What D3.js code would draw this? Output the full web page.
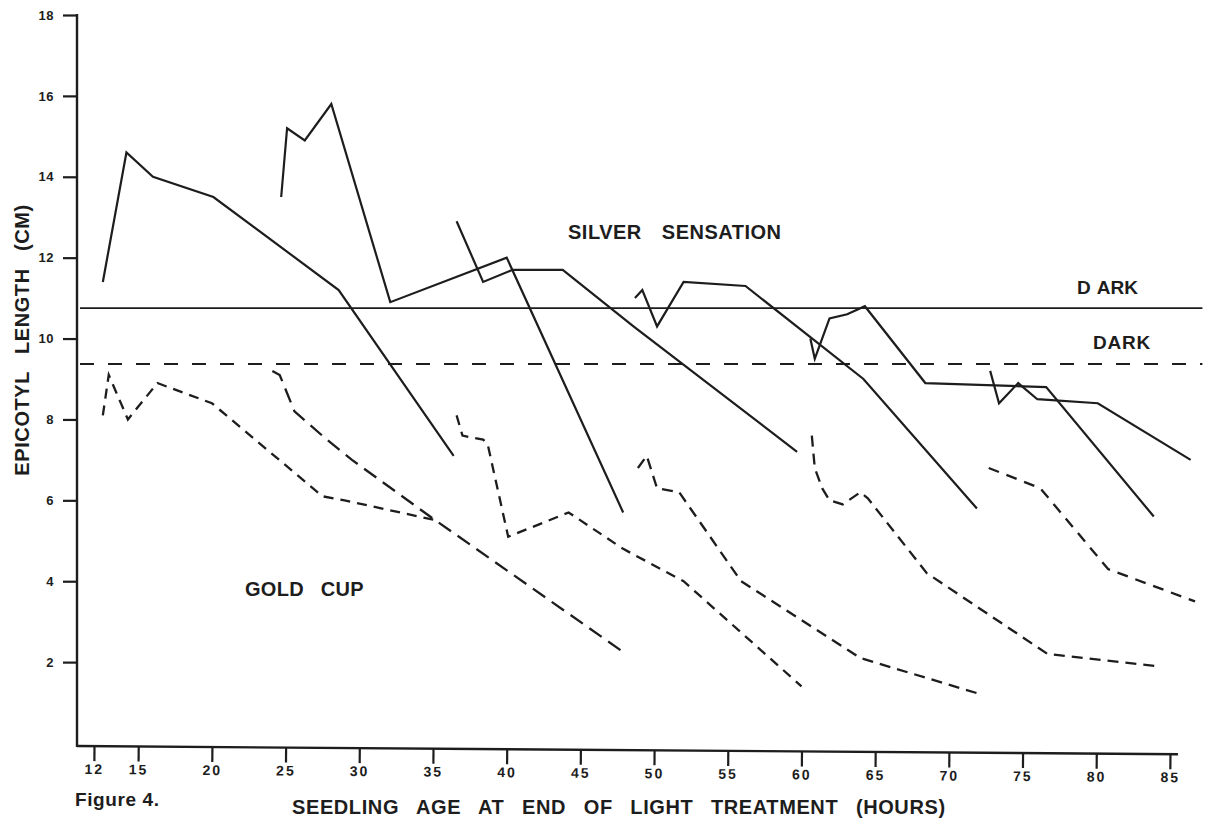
<!DOCTYPE html>
<html>
<head>
<meta charset="utf-8">
<script src="https://cdn.jsdelivr.net/npm/d3@7"></script>
<style>
  html, body { margin: 0; padding: 0; background: #ffffff; }
  svg { display: block; font-family: "Liberation Sans", Arial, Helvetica, sans-serif; }
</style>
</head>
<body>
<svg id="chart" width="1219" height="821"></svg>
<script>
// Axis ticks
const xTicks = [12, 15, 20, 25, 30, 35, 40, 45, 50, 55, 60, 65, 70, 75, 80, 85];
const yTicks = [2, 4, 6, 8, 10, 12, 14, 16, 18];

// Dark-grown controls (cm), drawn across the whole time span (hours)
const darkSpan = [11.05, 87.2];
const darkSilver = 10.75;
const darkGold = 9.37;

// Silver Sensation: seedling age (hours) and epicotyl length (cm), one run per start age
const silverHours = [
  [12.6, 14.2, 16.0, 20.1, 28.6, 36.4],
  [24.7, 25.1, 26.3, 28.1, 32.1, 40.0, 47.9],
  [36.6, 38.4, 40.4, 43.8, 48.6, 59.7],
  [48.7, 49.2, 50.2, 52.0, 56.2, 64.2, 71.9],
  [60.6, 60.9, 61.9, 63.1, 64.3, 68.4, 76.6, 83.9],
  [72.8, 73.4, 74.7, 76.0, 80.1, 86.4]
];
const silverLength = [
  [11.4, 14.6, 14.0, 13.5, 11.2, 7.1],
  [13.5, 15.2, 14.9, 15.8, 10.9, 12.0, 5.7],
  [12.9, 11.4, 11.7, 11.7, 10.3, 7.2],
  [11.0, 11.2, 10.3, 11.4, 11.3, 9.0, 5.8],
  [10.0, 9.5, 10.5, 10.6, 10.8, 8.9, 8.8, 5.6],
  [9.2, 8.4, 8.9, 8.5, 8.4, 7.0]
];

// Gold Cup: seedling age (hours) and epicotyl length (cm)
const goldHours = [
  [12.6, 13.0, 14.3, 16.3, 20.0, 27.5, 29.0, 35.3],
  [24.1, 24.6, 25.6, 27.8, 29.5, 34.8, 48.1],
  [36.6, 37.0, 38.4, 38.7, 40.1, 44.2, 47.9, 52.0, 60.0],
  [48.9, 49.5, 50.2, 51.7, 55.9, 64.0, 72.2],
  [60.7, 60.9, 61.4, 61.9, 62.8, 64.0, 64.5, 68.5, 76.7, 84.1],
  [72.7, 76.2, 80.8, 86.7]
];
const goldLength = [
  [8.1, 9.1, 8.0, 8.9, 8.4, 6.1, 6.0, 5.5],
  [9.2, 9.1, 8.2, 7.5, 7.0, 5.6, 2.2],
  [8.1, 7.6, 7.5, 7.4, 5.1, 5.7, 4.8, 4.0, 1.4],
  [6.8, 7.1, 6.3, 6.2, 4.0, 2.1, 1.2],
  [7.6, 6.8, 6.3, 6.0, 5.9, 6.2, 6.05, 4.2, 2.2, 1.9],
  [6.8, 6.3, 4.3, 3.5]
];

// Dash pattern for each Gold Cup run
const goldDash = ["10,7", "15,8", "10,7", "11,7", "11,7", "11,8"];

const ink = "#1d1d1d";
const svg = d3.select("#chart");

const x = d3.scaleLinear().domain([12, 85]).range([94, 1170]);
const y = d3.scaleLinear().domain([0, 18]).range([743, 15]);

const line = d3.line()
  .x(d => x(d[0]))
  .y(d => y(d[1]));

const zip = (hs, vs) => hs.map((h, i) => [h, vs[i]]);

// ---- Y axis ----
const yAxis = svg.append("g")
  .attr("transform", "translate(77,0)")
  .call(d3.axisLeft(y).tickValues(yTicks).tickSize(14).tickPadding(9).tickFormat(d3.format("d")));
yAxis.select(".domain").remove();
yAxis.append("line")
  .attr("x1", 0).attr("x2", 0)
  .attr("y1", 747).attr("y2", y(18) - 1)
  .attr("stroke", ink).attr("stroke-width", 2.4);
yAxis.selectAll(".tick line").attr("stroke", ink).attr("stroke-width", 2.2);
yAxis.selectAll(".tick text")
  .attr("fill", ink)
  .style("font-size", "13px")
  .style("font-weight", "bold")
  .style("letter-spacing", "0.5px")
  .style("font-family", "'Liberation Sans', Arial, sans-serif");

// ---- X axis (drawn slightly skewed, as on the sheet) ----
const xAxis = svg.append("g")
  .attr("transform", "translate(0,746) rotate(0.43,77,0)")
  .call(d3.axisBottom(x).tickValues(xTicks).tickSize(15).tickPadding(3).tickFormat(d3.format("d")));
xAxis.select(".domain").remove();
xAxis.append("line")
  .attr("x1", 77).attr("x2", 1178)
  .attr("y1", 0).attr("y2", 0)
  .attr("stroke", ink).attr("stroke-width", 2.4);
xAxis.selectAll(".tick line").attr("stroke", ink).attr("stroke-width", 2.2);
xAxis.selectAll(".tick text")
  .attr("fill", ink)
  .style("font-size", "14px")
  .style("font-weight", "bold")
  .style("letter-spacing", "2px")
  .style("font-family", "'Liberation Sans', Arial, sans-serif");

// ---- Dark controls ----
svg.append("path")
  .attr("d", line(darkSpan.map(h => [h, darkSilver])))
  .attr("fill", "none").attr("stroke", ink).attr("stroke-width", 1.7);
svg.append("path")
  .attr("d", line(darkSpan.map(h => [h, darkGold])))
  .attr("fill", "none").attr("stroke", ink).attr("stroke-width", 2)
  .attr("stroke-dasharray", "14,14");

// ---- Silver Sensation runs (solid) ----
svg.append("g").selectAll("path")
  .data(silverHours.map((hs, i) => zip(hs, silverLength[i])))
  .join("path")
  .attr("d", line)
  .attr("fill", "none")
  .attr("stroke", ink)
  .attr("stroke-width", 2.2)
  .attr("stroke-linejoin", "miter");

// ---- Gold Cup runs (dashed) ----
svg.append("g").selectAll("path")
  .data(goldHours.map((hs, i) => zip(hs, goldLength[i])))
  .join("path")
  .attr("d", line)
  .attr("fill", "none")
  .attr("stroke", ink)
  .attr("stroke-width", 2.3)
  .attr("stroke-dasharray", (d, i) => goldDash[i]);

// ---- Labels ----
const label = (tx, ty, str, size, ls, ws) => svg.append("text")
  .attr("x", tx).attr("y", ty)
  .attr("fill", ink)
  .style("font-size", size + "px")
  .style("font-weight", "bold")
  .style("letter-spacing", ls + "px")
  .style("word-spacing", ws + "px")
  .text(str);

label(568, 239, "SILVER SENSATION", 20, 0.5, 14);
label(245, 596, "GOLD CUP", 20, 0.3, 11);

const dark1 = svg.append("text")
  .attr("x", 1077).attr("y", 294)
  .attr("fill", ink)
  .style("font-size", "19px")
  .style("font-weight", "bold");
dark1.append("tspan").text("D");
dark1.append("tspan").attr("dx", 6).text("ARK");

label(1093, 349, "DARK", 19, 0.8, 0);

// Axis titles
svg.append("text")
  .attr("transform", "translate(29,340) rotate(-90)")
  .attr("text-anchor", "middle")
  .attr("fill", ink)
  .style("font-size", "20px")
  .style("font-weight", "bold")
  .style("letter-spacing", "0.6px")
  .style("word-spacing", "11px")
  .text("EPICOTYL LENGTH (CM)");

label(292, 814, "SEEDLING AGE AT END OF LIGHT TREATMENT (HOURS)", 20, 0.6, 11.5);
label(75, 806, "Figure 4.", 19, 0.6, 0);
</script>
</body>
</html>
